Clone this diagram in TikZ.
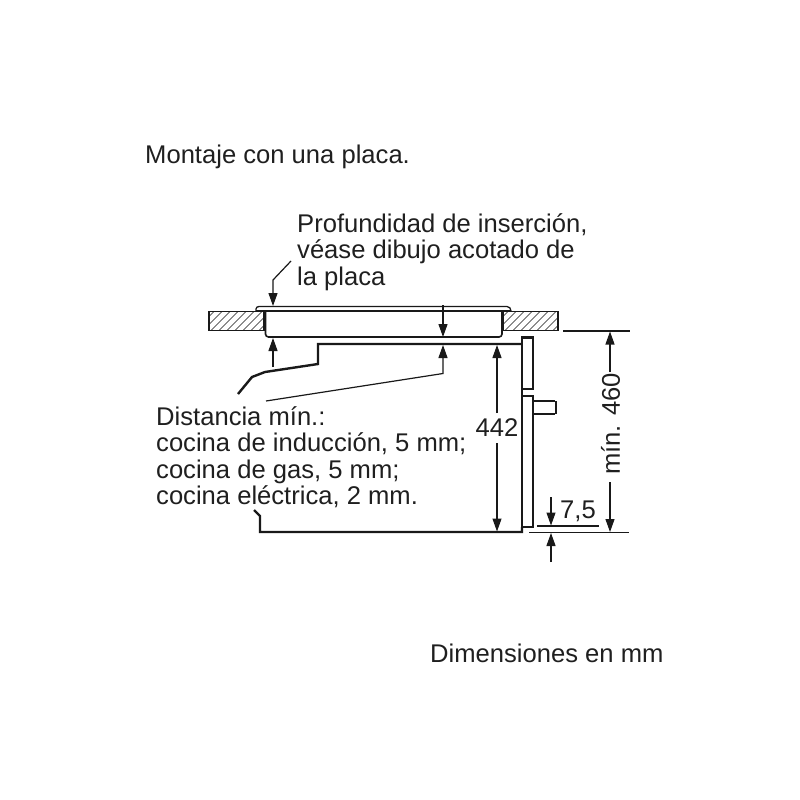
\documentclass[tikz,border=0pt]{standalone}
\usepackage{fontspec}
\setmainfont{Liberation Sans}
\usetikzlibrary{arrows.meta}
\tikzset{
    label text/.style={font=\fontsize{25.6}{26.5}\selectfont,text=black!88,inner sep=0pt,align=left},
    body line/.style={line width=2.4pt,line join=miter},
    thin line/.style={line width=1.3pt},
    dim line/.style={line width=1.2pt,-{Triangle[length=13pt,width=9pt]}},
    hatch box/.style={line width=1.1pt}
}
\newcommand{\hatchbox}[4]{% x0,y0,x1,y1
    \begin{scope}
        \clip (#1,#2) rectangle (#3,#4);
        \foreach \i in {0,8,...,90}
            \draw[line width=0.6pt] (#1+\i-22,#4) -- ++(22,-22);
    \end{scope}
    \draw[hatch box] (#1,#2) rectangle (#3,#4);
}
\begin{document}
\begin{tikzpicture}[x=1pt,y=-1pt,color=black!90]
    \useasboundingbox (0,0) rectangle (800,800);

    % Texts
    \node[label text,anchor=west] (title) at (145,157) {Montaje con una placa.};
    \node[label text,anchor=west] (depth) at (297,252) {Profundidad de inserción,\\véase dibujo acotado de\\la placa};
    \node[label text,anchor=west] (dist) at (156,457) {Distancia mín.:\\cocina de inducción, 5 mm;\\cocina de gas, 5 mm;\\cocina eléctrica, 2 mm.};
    \node[label text,anchor=west] (units) at (430,653) {Dimensiones en mm};
    \node[label text] (h442) at (497,428) {442};
    \node[label text,rotate=90] (h460) at (610.5,424) {mín. 460};
    \node[label text] (gap) at (578,511) {7,5};

    % Worktop
    \hatchbox{209}{311.5}{264}{330.5}
    \hatchbox{503}{311.5}{558}{330.5}

    % Hob
    \draw[thin line] (256,311) -- (256,309) to[out=90,in=180] (259,306.5) -- (507,306.5) to[out=0,in=90] (511,311);
    \draw[thin line] (256,311) -- (511,311);
    \draw[thin line,line width=1.6pt,rounded corners=3pt] (265.5,311) -- (265.5,337) -- (502,337) -- (502,311);

    % Oven
    \draw[body line] (238,394) -- (252,377) -- (265,372) -- (318,364) -- (318,344) -- (522,344);
    \draw[body line] (522,396) -- (522,337.5) -- (533,337.5) -- (533,389) -- (522,389);
    \draw[body line] (522,396) -- (533,396) -- (533,527) -- (522,527);
    \draw[thin line] (522,396) -- (522,532);
    \draw[body line] (254,510) -- (260,516) -- (260,532) -- (522,532) -- (522,527);
    \draw[thin line] (533,401) -- (555,401);
    \draw[thin line] (533,414) -- (555,414);
    \draw[body line] (556,401) -- (556,414);

    % Dimension lines
    \draw[thin line] (563,331) -- (630,331);
    \draw[thin line] (537,526) -- (599,526);
    \draw[thin line] (529,532.5) -- (629,532.5);

    \draw[dim line] (291,261) -- (273,280) -- (273,306);
    \draw[dim line] (273,367) -- (273,338);
    \draw[dim line] (443,305) -- (443,337);
    \draw[dim line] (266,401) -- (443,373.5) -- (443,345);
    \draw[dim line] (497,413) -- (497,345);
    \draw[dim line] (497,443) -- (497,531.5);
    \draw[dim line] (610,372) -- (610,331.5);
    \draw[dim line] (610,482) -- (610,532);
    \draw[dim line] (551,497) -- (551,525.5);
    \draw[dim line] (551,562) -- (551,533);
\end{tikzpicture}
\end{document}
